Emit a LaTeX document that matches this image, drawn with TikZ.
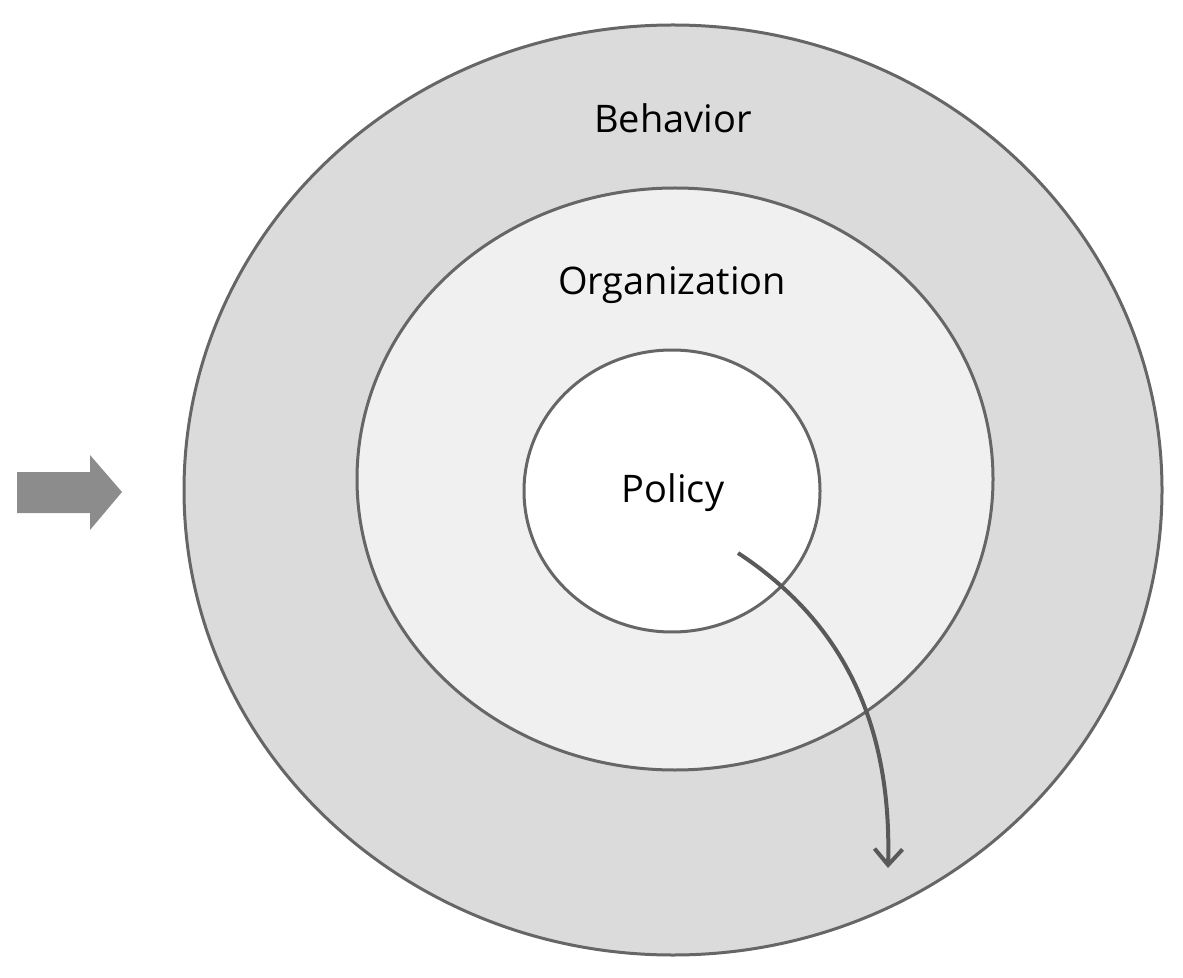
\documentclass[tikz,border=0pt]{standalone}
\usepackage{fontspec}
\setmainfont{Open Sans}
\usetikzlibrary{arrows.meta}
\begin{document}
\begin{tikzpicture}[x=0.5pt,y=-0.5pt,
  ring/.style={draw=black!60,line width=1.5pt},
  lbl/.style={font=\fontsize{19}{22}\selectfont,text=black}]
\useasboundingbox (0,0) rectangle (1183,978);
\draw[ring,fill=black!14] (673,490) ellipse [x radius=489,y radius=465];
\draw[ring,fill=black!6] (675,479) ellipse [x radius=318,y radius=291];
\draw[ring,fill=white] (672,491) ellipse [x radius=148,y radius=141];
\node[lbl] (beh) at (673,118) {Behavior};
\node[lbl] (org) at (672,285) {Organization};
\node[lbl] (pol) at (673,493) {Policy};
\fill[black!45] (17,472) -- (90,472) -- (90,455) -- (122,492) -- (90,530) -- (90,513) -- (17,513) -- cycle;
\coordinate (s) at (738,553);
\coordinate (t) at (888,868);
\draw[black!65,line width=2pt,-{Straight Barb[length=8pt,width=14pt,line width=2pt]}] (s) .. controls (840,620) and (892,720) .. (t);
\end{tikzpicture}
\end{document}
